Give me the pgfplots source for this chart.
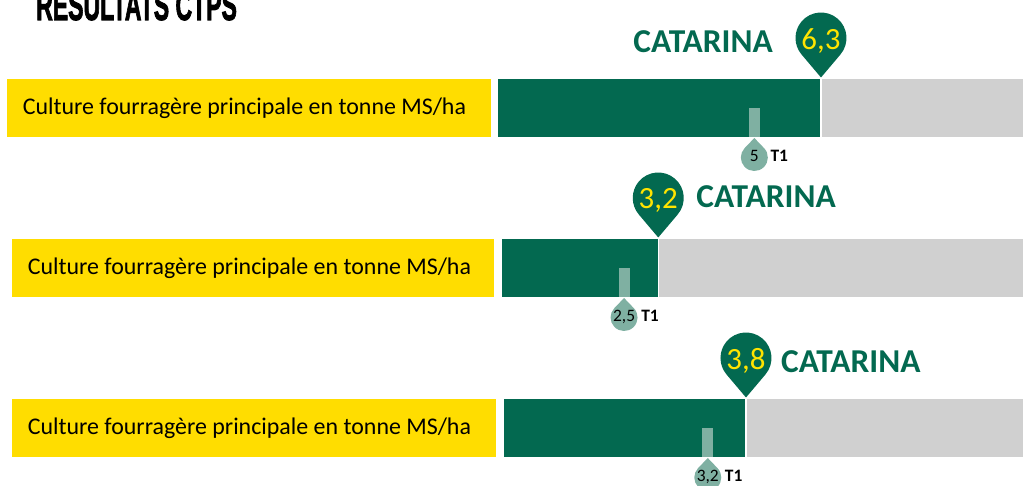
\documentclass[border=0pt]{standalone}
\usepackage{fontspec}
\setmainfont{Carlito}
\newfontfamily\titlefont[FakeBold=2.5]{Liberation Sans Bold}
\usepackage{pgfplots}
\pgfplotsset{compat=1.18}
\usepackage{graphicx}

\definecolor{dgreen}{RGB}{3,105,80}
\definecolor{lgreen}{RGB}{127,176,162}
\definecolor{lgrey}{RGB}{208,208,208}
\definecolor{yel}{RGB}{255,221,0}
\definecolor{pinyel}{RGB}{255,228,0}

\pgfdeclareplotmark{pin}{%
  \pgfpathmoveto{\pgfpoint{0bp}{1.5bp}}%
  \pgfpathlineto{\pgfpointadd{\pgfpoint{0bp}{41bp}}{\pgfpointpolar{-40}{25.5bp}}}%
  \pgfpatharc{-40}{220}{25.5bp}%
  \pgfpathclose
  \pgfusepathqfill
}
\pgfdeclareplotmark{drop}{%
  \pgfpathmoveto{\pgfpoint{0bp}{-1bp}}%
  \pgfpathlineto{\pgfpointadd{\pgfpoint{0bp}{-20.5bp}}{\pgfpointpolar{43.8}{13.5bp}}}%
  \pgfpatharc{43.8}{-223.8}{13.5bp}%
  \pgfpathclose
  \pgfusepathqfill
}
\pgfdeclareplotmark{t1bar}{%
  \pgfpathrectangle{\pgfpoint{-5.5bp}{0bp}}{\pgfpoint{11bp}{28.5bp}}%
  \pgfusepathqfill
}

\newcommand{\rowlabel}[1]{\makebox[#1][l]{Culture fourragère principale en tonne MS/ha}}

\tikzset{
  t1label/.style={anchor=base west, inner sep=0pt, font=\bfseries\fontsize{17.5}{17.5}\selectfont},
  catlabel/.style={inner sep=0pt, text=dgreen, font=\bfseries\fontsize{33.5}{33.5}\selectfont},
}

\pgfplotsset{
  rowaxis/.style={
    anchor=south west, scale only axis, height=58bp,
    ymin=0, ymax=1, xmin=0, clip=false,
    axis line style={draw=none}, xtick=\empty, ytick={0.5}, major tick length=0pt,
    axis background/.style={fill=lgrey},
    yticklabel style={fill=yel, inner xsep=16bp, inner ysep=0pt, minimum height=58bp,
      anchor=east, text=black, font=\fontsize{24}{28}\selectfont},
    /pgf/number format/.cd, use comma, fixed, precision=1, assume math mode=true,
  },
  greenbar/.style={xbar, bar width=58bp, fill=dgreen, draw=none},
  sepline/.style={white, no marks, line width=1.5bp},
  t1bar/.style={only marks, mark=t1bar, mark options={fill=lgreen, draw=none}},
  t1drop/.style={only marks, mark=drop, mark options={fill=lgreen, draw=none},
    nodes near coords, point meta=x,
    every node near coord/.append style={anchor=base, yshift=-25bp, text=black,
      inner sep=0pt, font=\fontsize{17.5}{17.5}\selectfont}},
  mainpin/.style={only marks, mark=pin, mark options={fill=dgreen, draw=none},
    nodes near coords, point meta=x,
    every node near coord/.append style={anchor=base, yshift=#1, text=pinyel,
      inner sep=0pt, font=\fontsize{31}{31}\selectfont}},
}

\begin{document}
\begin{tikzpicture}
\path[use as bounding box] (0bp,0bp) rectangle (1023bp,486bp);
\clip (0bp,0bp) rectangle (1023bp,486bp);

\node[anchor=base west, inner sep=0pt, font=\titlefont\fontsize{42}{42}\selectfont]
  at (36bp,466bp) {\scalebox{0.55}[1]{RÉSULTATS CTPS}};

% Row 1
\begin{axis}[rowaxis, at={(498bp,349bp)}, width=525bp, xmax=10.24,
  yticklabels={\rowlabel{452bp}},
  yticklabel style={xshift=-7bp}]
\addplot[greenbar] coordinates {(6.3,0.5)};
\addplot[sepline] coordinates {(6.3,0) (6.3,1)};
\addplot[t1bar] coordinates {(5,0)};
\addplot[t1drop] coordinates {(5,0)};
\node[t1label] at ([xshift=16bp,yshift=-25bp]axis cs:5,0) {T1};
\addplot[mainpin=29bp] coordinates {(6.3,1)};
\node[catlabel, anchor=base east] at ([xshift=-48bp,yshift=26bp]axis cs:6.3,1) {CATARINA};
\end{axis}

% Row 2
\begin{axis}[rowaxis, at={(502bp,189bp)}, width=521bp, xmax=10.67,
  yticklabels={\rowlabel{450bp}},
  yticklabel style={xshift=-8bp}]
\addplot[greenbar] coordinates {(3.2,0.5)};
\addplot[sepline] coordinates {(3.2,0) (3.2,1)};
\addplot[t1bar] coordinates {(2.5,0)};
\addplot[t1drop] coordinates {(2.5,0)};
\node[t1label] at ([xshift=17bp,yshift=-25bp]axis cs:2.5,0) {T1};
\addplot[mainpin=30bp] coordinates {(3.2,1)};
\node[catlabel, anchor=base west] at ([xshift=38bp,yshift=31bp]axis cs:3.2,1) {CATARINA};
\end{axis}

% Row 3
\begin{axis}[rowaxis, at={(504bp,29bp)}, width=519bp, xmax=8.15,
  yticklabels={\rowlabel{452bp}},
  yticklabel style={xshift=-8bp}]
\addplot[greenbar] coordinates {(3.8,0.5)};
\addplot[sepline] coordinates {(3.8,0) (3.8,1)};
\addplot[t1bar] coordinates {(3.2,0)};
\addplot[t1drop] coordinates {(3.2,0)};
\node[t1label] at ([xshift=17bp,yshift=-25bp]axis cs:3.2,0) {T1};
\addplot[mainpin=29bp] coordinates {(3.8,1)};
\node[catlabel, anchor=base west] at ([xshift=35bp,yshift=26bp]axis cs:3.8,1) {CATARINA};
\end{axis}
\end{tikzpicture}
\end{document}
